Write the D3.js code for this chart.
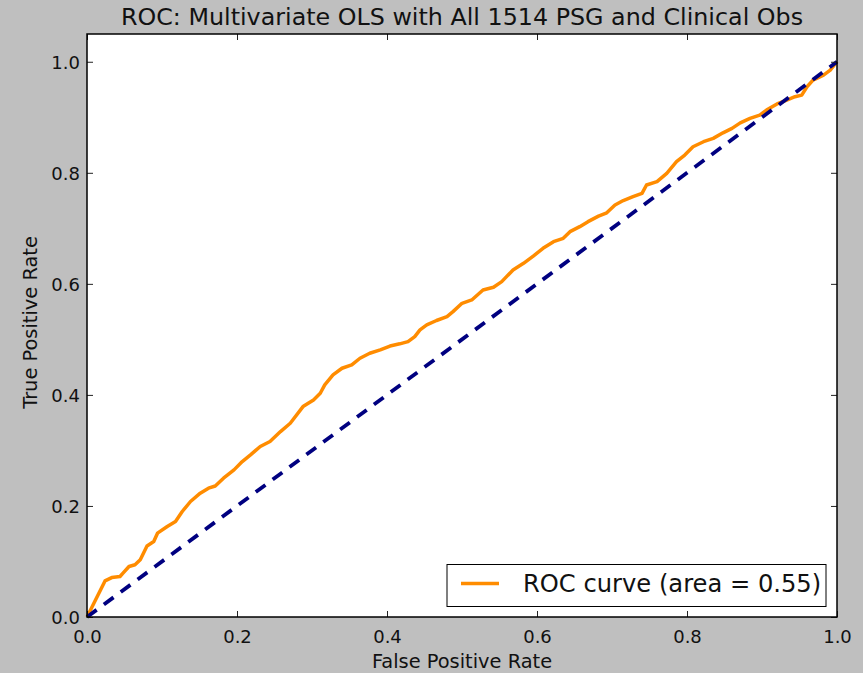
<!DOCTYPE html>
<html>
<head>
<meta charset="utf-8">
<script src="https://cdn.jsdelivr.net/npm/d3@7"></script>
<style>
  body { margin: 0; background: #bfbfbf; }
  svg { display: block; font-family: "DejaVu Sans", sans-serif; }
</style>
</head>
<body>
<svg id="svg" width="863" height="673"></svg>
<script>
const width = 863;
const height = 673;
const margin = { left: 87, right: 26, top: 34, bottom: 56 };

// ROC curve points
const fpr = [0, 0.024, 0.033, 0.044, 0.048, 0.056, 0.064, 0.071, 0.080, 0.089, 0.094, 0.107, 0.118, 0.127,
  0.138, 0.151, 0.162, 0.171, 0.182, 0.196, 0.207, 0.218, 0.231, 0.244, 0.258, 0.271, 0.288, 0.302,
  0.311, 0.317, 0.328, 0.340, 0.353, 0.364, 0.377, 0.391, 0.404, 0.417, 0.428, 0.437, 0.444, 0.453,
  0.466, 0.480, 0.488, 0.500, 0.513, 0.528, 0.542, 0.553, 0.568, 0.582, 0.595, 0.608, 0.622, 0.635,
  0.644, 0.657, 0.668, 0.682, 0.693, 0.704, 0.715, 0.728, 0.740, 0.746, 0.760, 0.773, 0.786, 0.797,
  0.808, 0.822, 0.835, 0.848, 0.860, 0.871, 0.884, 0.897, 0.906, 0.920, 0.933, 0.944, 0.953, 0.960,
  0.968, 0.982, 0.991, 1.0];
const tpr = [0, 0.065, 0.071, 0.073, 0.079, 0.091, 0.094, 0.103, 0.128, 0.136, 0.151, 0.163, 0.172, 0.190,
  0.208, 0.223, 0.232, 0.236, 0.250, 0.265, 0.280, 0.292, 0.307, 0.316, 0.334, 0.349, 0.379, 0.391,
  0.403, 0.418, 0.436, 0.448, 0.454, 0.466, 0.475, 0.481, 0.488, 0.492, 0.496, 0.505, 0.517, 0.526,
  0.534, 0.541, 0.550, 0.565, 0.571, 0.589, 0.594, 0.604, 0.625, 0.637, 0.650, 0.664, 0.676, 0.682,
  0.694, 0.703, 0.712, 0.722, 0.728, 0.742, 0.750, 0.757, 0.763, 0.778, 0.784, 0.799, 0.820, 0.832,
  0.847, 0.856, 0.862, 0.872, 0.880, 0.890, 0.898, 0.904, 0.913, 0.924, 0.931, 0.937, 0.940, 0.955,
  0.967, 0.976, 0.985, 1.0];
const chance = [0, 1];
const xTicks = [0.0, 0.2, 0.4, 0.6, 0.8, 1.0];
const yTicks = [0.0, 0.2, 0.4, 0.6, 0.8, 1.0];
const aucLabel = "ROC curve (area = 0.55)";

const svg = d3.select("#svg");

const x = d3.scaleLinear().domain([0, 1]).range([margin.left, width - margin.right]);
const y = d3.scaleLinear().domain([0, 1.05]).range([height - margin.bottom, margin.top]);

// plot area
svg.append("rect")
  .attr("x", x(0)).attr("y", y(1.05))
  .attr("width", x(1) - x(0)).attr("height", y(0) - y(1.05))
  .attr("fill", "white");

const line = d3.line().x((d) => x(d[0])).y((d) => y(d[1]));

svg.append("path")
  .datum(fpr.map((f, i) => [f, tpr[i]]))
  .attr("d", line)
  .attr("fill", "none")
  .attr("stroke", "#ff8c00")
  .attr("stroke-width", 3.5)
  .attr("stroke-linejoin", "round");

svg.append("path")
  .datum(chance.map((c) => [c, c]))
  .attr("d", line)
  .attr("fill", "none")
  .attr("stroke", "#000080")
  .attr("stroke-width", 3.8)
  .attr("stroke-dasharray", "12,9");

// axes, ticks pointing inward on all four sides
const fmt = d3.format(".1f");
const axBottom = svg.append("g").attr("transform", `translate(0,${y(0)})`)
  .call(d3.axisBottom(x).tickValues(xTicks).tickFormat(fmt).tickSizeInner(-6).tickSizeOuter(0).tickPadding(13));
const axTop = svg.append("g").attr("transform", `translate(0,${y(1.05)})`)
  .call(d3.axisTop(x).tickValues(xTicks).tickFormat("").tickSizeInner(-6).tickSizeOuter(0));
const axLeft = svg.append("g").attr("transform", `translate(${x(0)},0)`)
  .call(d3.axisLeft(y).tickValues(yTicks).tickFormat(fmt).tickSizeInner(-6).tickSizeOuter(0).tickPadding(7));
const axRight = svg.append("g").attr("transform", `translate(${x(1)},0)`)
  .call(d3.axisRight(y).tickValues(yTicks).tickFormat("").tickSizeInner(-6).tickSizeOuter(0));

[axBottom, axTop, axLeft, axRight].forEach((g) => {
  g.select(".domain").remove();
  g.selectAll(".tick line").attr("stroke", "#222").attr("stroke-width", 1);
  g.selectAll(".tick text").attr("font-size", 18).attr("fill", "#111")
    .attr("font-family", "DejaVu Sans, sans-serif");
});
axLeft.selectAll(".tick text").attr("dy", "0.36em");

svg.append("rect")
  .attr("x", x(0)).attr("y", y(1.05))
  .attr("width", x(1) - x(0)).attr("height", y(0) - y(1.05))
  .attr("fill", "none")
  .attr("stroke", "black")
  .attr("stroke-width", 1.5);

// title and labels
svg.append("text")
  .attr("x", (x(0) + x(1)) / 2).attr("y", 25)
  .attr("text-anchor", "middle")
  .attr("font-size", 23.8).attr("fill", "#111")
  .text("ROC: Multivariate OLS with All 1514 PSG and Clinical Obs");

svg.append("text")
  .attr("x", (x(0) + x(1)) / 2).attr("y", 668)
  .attr("text-anchor", "middle")
  .attr("font-size", 19.4).attr("fill", "#111")
  .text("False Positive Rate");

svg.append("text")
  .attr("transform", `translate(37,${(y(0) + y(1.05)) / 2 - 3}) rotate(-90)`)
  .attr("text-anchor", "middle")
  .attr("font-size", 19.4).attr("fill", "#111")
  .text("True Positive Rate");

// legend
const legend = svg.append("g");
legend.append("rect")
  .attr("x", 447).attr("y", 564.5)
  .attr("width", 379).attr("height", 42)
  .attr("fill", "white").attr("stroke", "black").attr("stroke-width", 1);
legend.append("line")
  .attr("x1", 461).attr("x2", 499).attr("y1", 583.5).attr("y2", 583.5)
  .attr("stroke", "#ff8c00").attr("stroke-width", 3.5);
legend.append("text")
  .attr("x", 523).attr("y", 592)
  .attr("font-size", 24.2).attr("fill", "#111")
  .text(aucLabel);
</script>
</body>
</html>
